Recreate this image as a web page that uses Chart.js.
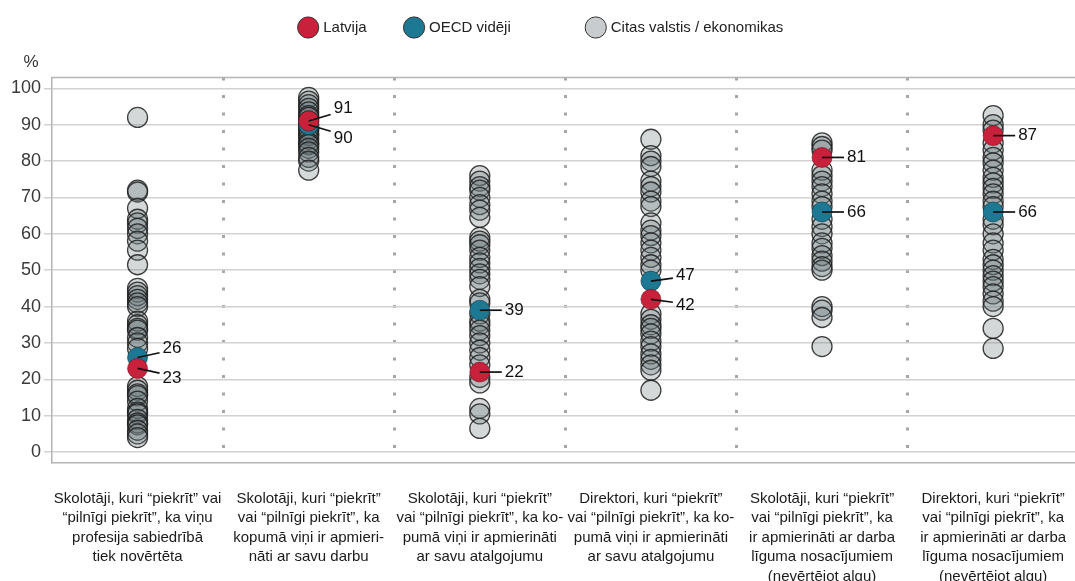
<!DOCTYPE html>
<html><head><meta charset="utf-8">
<script src="https://cdn.jsdelivr.net/npm/chart.js@4"></script>
<style>
html,body{margin:0;padding:0;overflow:hidden;background:#fff;}
#wrap{width:1090px;height:581px;position:relative;}
</style></head><body>
<div id="wrap"><canvas id="c" width="1090" height="581"></canvas></div>
<script>
const categories = [
  ["Skolotāji, kuri “piekrīt” vai", "“pilnīgi piekrīt”, ka viņu", "profesija sabiedrībā", "tiek novērtēta"],
  ["Skolotāji, kuri “piekrīt”", "vai “pilnīgi piekrīt”, ka", "kopumā viņi ir apmieri-", "nāti ar savu darbu"],
  ["Skolotāji, kuri “piekrīt”", "vai “pilnīgi piekrīt”, ka ko-", "pumā viņi ir apmierināti", "ar savu atalgojumu"],
  ["Direktori, kuri “piekrīt”", "vai “pilnīgi piekrīt”, ka ko-", "pumā viņi ir apmierināti", "ar savu atalgojumu"],
  ["Skolotāji, kuri “piekrīt”", "vai “pilnīgi piekrīt”, ka", "ir apmierināti ar darba", "līguma nosacījumiem", "(nevērtējot algu)"],
  ["Direktori, kuri “piekrīt”", "vai “pilnīgi piekrīt”, ka", "ir apmierināti ar darba", "līguma nosacījumiem", "(nevērtējot algu)"]
];
const seriesNames = ["Latvija", "OECD vidēji", "Citas valstis / ekonomikas"];
const latvia = [23, 91, 22, 42, 81, 87];
const oecd = [26, 90, 39, 47, 66, 66];
const others1 = [92, 72, 71.5, 67, 64, 63, 61.5, 60, 58, 55.5, 51.5, 45, 44, 43, 42, 41, 40, 36, 35, 34, 33.5, 31.5, 30, 28.5, 18, 17, 16, 15.5, 14, 12, 11, 10.5, 9, 8, 7.5, 6, 5, 4];
const others2 = [97.5, 96.5, 95.5, 94.5, 93.5, 92.5, 92, 91, 90, 89, 88.5, 87.5, 87, 86, 85, 84.5, 83.5, 82.5, 81, 80, 77.5];
const others3 = [76, 74.5, 73, 72, 70, 68, 66.5, 64.5, 59, 58, 57, 55.5, 53.5, 52, 50.5, 49, 47.5, 45.5, 42, 41, 38, 36, 35, 33.5, 32, 30, 28, 26, 24, 20.5, 19, 12, 10.5, 6.5];
const others4 = [86, 81.5, 80, 78.5, 74.5, 73, 71.5, 69, 67.5, 63, 61, 59.5, 57.5, 55.5, 53.5, 51.5, 50, 38, 36.5, 35, 34, 32.5, 30.5, 29, 27, 25.5, 24, 22.5, 17];
const others5 = [85, 84, 83, 77.5, 76, 74.5, 73, 71, 69, 67.5, 64, 62, 60, 57.5, 56, 54, 52.5, 51, 50, 40, 39, 37, 29];
const others6 = [92.5, 90, 88.5, 85, 83, 81, 79.5, 77.5, 75.5, 74, 72.5, 71, 69, 67.5, 64, 62.5, 60, 57.5, 55.5, 53, 51.5, 50, 48.5, 47, 45.5, 43.5, 41.5, 40, 34, 28.5];
const yTickValues = [0, 10, 20, 30, 40, 50, 60, 70, 80, 90, 100];
const yUnit = "%";

const others = [others1, others2, others3, others4, others5, others6];
const otherPoints = [];
others.forEach((arr, i) => arr.forEach(v => otherPoints.push({x: i, y: v})));

const RED = '#c8213b', TEAL = '#1d7893', GREY_FILL = 'rgba(100,115,120,0.28)';
const condensed = '"Liberation Sans Narrow", "Arial Narrow", "Liberation Sans", sans-serif';
const sans = '"Liberation Sans", Arial, sans-serif';
const NB = '\u00a0';

const valueLabels = {
  id: 'valueLabels',
  afterDatasetsDraw(chart) {
    const ctx = chart.ctx;
    const mL = chart.getDatasetMeta(0), mO = chart.getDatasetMeta(1);
    ctx.save();
    ctx.font = '17px ' + sans;
    ctx.fillStyle = '#111'; ctx.strokeStyle = '#111'; ctx.lineWidth = 1.7;
    ctx.textBaseline = 'middle'; ctx.textAlign = 'left';
    for (let i = 0; i < categories.length; i++) {
      const items = [{p: mL.data[i], v: latvia[i]}, {p: mO.data[i], v: oecd[i]}];
      items.sort((a, b) => b.v - a.v);
      const d = Math.abs(items[0].p.y - items[1].p.y);
      if (d < 30) {
        const mid = (items[0].p.y + items[1].p.y) / 2;
        items[0].ty = mid - 15; items[1].ty = mid + 15;
      } else {
        items[0].ty = items[0].p.y; items[1].ty = items[1].p.y;
      }
      items.forEach(it => {
        const x = it.p.x, y = it.p.y;
        ctx.beginPath();
        ctx.moveTo(x, y);
        ctx.lineTo(x + 22, it.ty + (y - it.ty) * 0.5);
        ctx.stroke();
        ctx.fillText(String(it.v), x + 25, it.ty);
      });
    }
    ctx.restore();
  }
};

const frame = {
  id: 'frame',
  beforeDatasetsDraw(chart) {
    const {ctx, chartArea} = chart;
    ctx.save();
    ctx.strokeStyle = '#b4b4b4'; ctx.lineWidth = 1.5;
    ctx.beginPath();
    ctx.moveTo(chartArea.left, chartArea.top);
    ctx.lineTo(chartArea.right, chartArea.top);
    ctx.stroke();
    ctx.restore();
  }
};

new Chart(document.getElementById('c'), {
  type: 'scatter',
  data: {
    labels: categories,
    datasets: [
      {label: seriesNames[0], parsing: false, data: latvia.map((v, i) => ({x: i, y: v})), backgroundColor: RED, borderColor: 'rgba(110,20,30,0.6)', borderWidth: 1, pointRadius: 10},
      {label: seriesNames[1], parsing: false, data: oecd.map((v, i) => ({x: i, y: v})), backgroundColor: TEAL, borderColor: 'rgba(10,55,70,0.6)', borderWidth: 1, pointRadius: 10},
      {label: seriesNames[2], parsing: false, data: otherPoints, backgroundColor: GREY_FILL, borderColor: 'rgba(30,30,30,0.85)', borderWidth: 1.3, pointRadius: 10}
    ]
  },
  options: {
    responsive: false,
    animation: false,
    devicePixelRatio: 1,
    events: [],
    layout: {padding: {top: -20, right: 6, left: 0, bottom: 0}},
    plugins: {
      tooltip: {enabled: false},
      title: {
        display: true,
        text: NB.repeat(5) + yUnit,
        align: 'start',
        position: 'top',
        weight: 500,
        padding: {top: 7, bottom: 5},
        color: '#333',
        font: {family: sans, size: 17, weight: 'normal', lineHeight: 1.2}
      },
      legend: {
        position: 'top',
        labels: {
          usePointStyle: true,
          pointStyle: 'circle',
          padding: 40,
          color: '#222',
          font: {family: condensed, size: 15},
          generateLabels(chart) {
            const fills = [RED, TEAL, '#c9cccf'];
            return chart.data.datasets.map((ds, i) => ({
              text: i === 1 ? ds.label + NB.repeat(9) : ds.label,
              fillStyle: fills[i], strokeStyle: '#333', lineWidth: 1,
              pointStyle: 'circle', datasetIndex: i, hidden: false, fontColor: '#222'
            }));
          }
        }
      }
    },
    scales: {
      x: {
        type: 'category',
        offset: true,
        grid: {
          offset: true,
          drawTicks: false,
          lineWidth: 3,
          color: c => (c.index >= 1 ? '#a6a6a6' : 'rgba(0,0,0,0)')
        },
        border: {display: true, color: '#b4b4b4', width: 1.5, dash: [3, 14.5]},
        ticks: {
          autoSkip: false, maxRotation: 0, minRotation: 0,
          padding: 26, color: '#1a1a1a',
          font: {family: condensed, size: 15, lineHeight: 1.3}
        },
        afterFit(s) { s.height = 118; s.paddingLeft = 0; s.paddingRight = 0; }
      },
      y: {
        min: -3, max: 103,
        grid: {color: '#d2d2d2', lineWidth: 1.5, tickLength: 8},
        border: {display: true, color: '#b4b4b4', width: 1.5},
        ticks: {
          includeBounds: false, stepSize: 10, padding: 3, color: '#3a3a3a',
          font: {family: sans, size: 18}
        },
        afterBuildTicks(s) { s.ticks = yTickValues.map(v => ({value: v})); },
        afterFit(s) { s.width = 52; s.paddingTop = 0; s.paddingBottom = 0; }
      }
    }
  },
  plugins: [frame, valueLabels]
});
</script>
</body></html>
